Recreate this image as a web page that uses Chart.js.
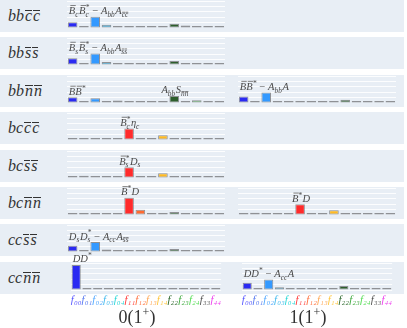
<!DOCTYPE html>
<html>
<head>
<meta charset="utf-8">
<script src="https://cdn.jsdelivr.net/npm/chart.js@4"></script>
<style>
  body { margin: 0; background: #fff; width: 407px; height: 328px; position: relative; overflow: hidden; font-family: "Liberation Serif", serif; }
  .row { position: absolute; left: 0; width: 404px; height: 32px; background: #e8eef5; }
  .name { position: absolute; left: 8px; top: 0; line-height: 32px; font-style: italic; font-size: 16px; color: #333; }
  .ob { display: inline-block; border-top: 1px solid #333; line-height: 0.62; margin-left: 1px; }
  canvas { position: absolute; }
  .col { position: absolute; font-size: 18px; line-height: 20px; color: #333; transform: translateX(-50%); white-space: nowrap; }
  .col sup { font-size: 12px; vertical-align: 7px; line-height: 0; }
</style>
</head>
<body>
<script>
// categories (x axis)
const cats = ['f00', 'f01', 'f02', 'f03', 'f04', 'f11', 'f12', 'f13', 'f14', 'f22', 'f23', 'f24', 'f33', 'f44'];
const barColors = ['#2a2af2', '#3b5bd6', '#3399ff', '#2aa8dc', '#27c4c4', '#ff2b2b', '#ff6a30', '#f0a060', '#ffba22', '#2d5e2d', '#3caa3c', '#4cdd4c', '#5a5a5a', '#c83cc8'];
const tickColors = ['#5a5aff', '#5a7cf0', '#55aaff', '#45bbee', '#30d8d8', '#ff4040', '#ff7444', '#ffaa5a', '#ffc844', '#2f6a2f', '#40aa40', '#55dd55', '#555555', '#ee44ee'];

// row names: first two quarks, last two antiquarks
const rowNames = ['bbcc', 'bbss', 'bbnn', 'bccc', 'bcss', 'bcnn', 'ccss', 'ccnn'];
const colNames = ['0', '1'];

// series values, column 0(1+)
const bbcc0 = [0.21, 0.01, 0.42, 0.12, 0.01, 0.01, 0.01, 0.01, 0.01, 0.16, 0.09, 0.01, 0.01, 0.01];
const bbss0 = [0.25, 0.01, 0.43, 0.11, 0.01, 0.01, 0.01, 0.01, 0.01, 0.15, 0.06, 0.01, 0.01, 0.01];
const bbnn0 = [0.21, 0.03, 0.18, 0.01, 0.09, 0.04, 0.07, 0.01, 0.01, 0.26, 0.01, 0.10, 0.01, 0.03];
const bccc0 = [0.04, 0.06, 0.01, 0.01, 0.06, 0.43, 0.03, 0.03, 0.18, 0.01, 0.01, 0.03, 0.01, 0.03];
const bcss0 = [0.04, 0.08, 0.01, 0.01, 0.06, 0.40, 0.02, 0.02, 0.18, 0.01, 0.01, 0.01, 0.01, 0.01];
const bcnn0 = [0.01, 0.01, 0.01, 0.01, 0.01, 0.64, 0.19, 0.01, 0.03, 0.11, 0.01, 0.01, 0.01, 0.01];
const ccss0 = [0.23, 0.01, 0.37, 0.09, 0.01, 0.01, 0.01, 0.01, 0.01, 0.11, 0.05, 0.01, 0.01, 0.01];
const ccnn0 = [0.93, 0.01, 0.01, 0.01, 0.01, 0.01, 0.01, 0.01, 0.01, 0.01, 0.01, 0.01, 0.01, 0.01];
// series values, column 1(1+)
const bbnn1 = [0.24, 0.01, 0.39, 0.06, 0.01, 0.01, 0.01, 0.01, 0.01, 0.12, 0.04, 0.01, 0.01, 0.01];
const bcnn1 = [0.04, 0.08, 0.01, 0.01, 0.06, 0.40, 0.03, 0.03, 0.18, 0.01, 0.01, 0.03, 0.01, 0.03];
const ccnn1 = [0.27, 0.01, 0.39, 0.10, 0.01, 0.01, 0.01, 0.01, 0.01, 0.15, 0.06, 0.01, 0.02, 0.01];

// little math-text pieces for the bar notes
const N = (t, bar) => ({ t, bar });
const S = (sub, sup, sb) => ({ sub, sup, sb });
const O = t => ({ t, up: true });

const panels = [
  { row: 0, col: 0, data: bbcc0, notes: [{ i: 0, align: 'left', parts: [N('B', 1), S('c'), N('B', 1), S('c', '*'), O(' − '), N('A'), S('bb'), N('A'), S('cc', null, 1)] }] },
  { row: 1, col: 0, data: bbss0, notes: [{ i: 0, align: 'left', parts: [N('B', 1), S('s'), N('B', 1), S('s', '*'), O(' − '), N('A'), S('bb'), N('A'), S('ss', null, 1)] }] },
  { row: 2, col: 0, data: bbnn0, notes: [
      { i: 0, align: 'left', parts: [N('B', 1), N('B', 1), S(null, '*')] },
      { i: 9, align: 'center', parts: [N('A'), S('bb'), N('S'), S('nn', null, 1)] }] },
  { row: 2, col: 1, data: bbnn1, notes: [{ i: 0, align: 'left', parts: [N('B', 1), N('B', 1), S(null, '*'), O(' − '), N('A'), S('bb'), N('A')] }] },
  { row: 3, col: 0, data: bccc0, notes: [{ i: 5, align: 'center', parts: [N('B', 1), S('c', '*'), N('η'), S('c')] }] },
  { row: 4, col: 0, data: bcss0, notes: [{ i: 5, align: 'center', parts: [N('B', 1), S('s', '*'), N('D'), S('s')] }] },
  { row: 5, col: 0, data: bcnn0, notes: [{ i: 5, align: 'center', parts: [N('B', 1), S(null, '*'), N('D')] }] },
  { row: 5, col: 1, data: bcnn1, notes: [{ i: 5, align: 'center', parts: [N('B', 1), S(null, '*'), N('D')] }] },
  { row: 6, col: 0, data: ccss0, notes: [{ i: 0, align: 'left', parts: [N('D'), S('s'), N('D'), S('s', '*'), O(' − '), N('A'), S('cc'), N('A'), S('ss', null, 1)] }] },
  { row: 7, col: 0, data: ccnn0, ticks: true, notes: [{ i: 0, align: 'left', parts: [N('D'), N('D'), S(null, '*')] }] },
  { row: 7, col: 1, data: ccnn1, ticks: true, notes: [{ i: 0, align: 'left', parts: [N('D'), N('D'), S(null, '*'), O(' − '), N('A'), S('cc'), N('A')] }] },
];

const W = 158, H = 27, PADT = 16, TICKH = 15;
const colX = [67, 238];
const base0 = 28, pitch = 37.4;
const NF = 10.5;
const subDigits = '₀₁₂₃₄';

function baseline(r) { return Math.round(base0 + pitch * r); }

// draw (or just measure) a short math label, x = left, y = text baseline
function rich(ctx, parts, x, y, draw) {
  let cx = x;
  const bar = (x0, x1, yy) => { ctx.beginPath(); ctx.moveTo(x0, yy); ctx.lineTo(x1, yy); ctx.stroke(); };
  for (const p of parts) {
    if (p.t) {
      ctx.font = (p.up ? '' : 'italic ') + NF + 'px "Liberation Serif"';
      const w = ctx.measureText(p.t).width;
      if (draw) {
        ctx.fillText(p.t, cx, y);
        if (p.bar) bar(cx + 1.5, cx + w + 0.5, y - NF * 0.82);
      }
      cx += w;
    } else {
      ctx.font = 'italic ' + (NF * 0.7) + 'px "Liberation Serif"';
      let w = 0;
      if (p.sup) {
        if (draw) ctx.fillText(p.sup, cx, y - NF * 0.4);
        w = Math.max(w, ctx.measureText(p.sup).width);
      }
      if (p.sub) {
        let sx = cx;
        for (const ch of p.sub) {
          const wc = ctx.measureText(ch).width;
          if (draw) {
            ctx.fillText(ch, sx, y + NF * 0.25);
            if (p.sb) bar(sx + 0.4, sx + wc, y + NF * 0.25 - NF * 0.7 * 0.62);
          }
          sx += wc;
        }
        w = Math.max(w, sx - cx);
      }
      cx += w + 0.6;
    }
  }
  return cx - x;
}

function makeNotes(list) {
  return {
    id: 'notes',
    afterDatasetsDraw(chart) {
      const ctx = chart.ctx;
      const bars = chart.getDatasetMeta(0).data;
      ctx.save();
      ctx.fillStyle = '#4a4a4a';
      ctx.strokeStyle = '#4a4a4a';
      ctx.lineWidth = 0.7;
      ctx.textBaseline = 'alphabetic';
      for (const n of list) {
        const w = rich(ctx, n.parts, 0, 0, false);
        const b = bars[n.i];
        const x = n.align === 'left' ? b.x - b.width / 2 + 1 : b.x - w / 2 + 1;
        // sit just above the highest bar under the text
        let top = chart.chartArea.bottom;
        for (const e of bars) {
          if (e.x + e.width / 2 > x && e.x - e.width / 2 < x + w) top = Math.min(top, e.y);
        }
        rich(ctx, n.parts, x, top - 2.5, true);
      }
      ctx.restore();
    }
  };
}

// row backgrounds and names
rowNames.forEach((name, r) => {
  const bg = document.createElement('div');
  bg.className = 'row';
  bg.style.top = (baseline(r) - 28) + 'px';
  const lab = document.createElement('div');
  lab.className = 'name';
  lab.innerHTML = name.slice(0, 2) + name.slice(2).split('').map(c => '<span class="ob">' + c + '</span>').join('');
  bg.appendChild(lab);
  document.body.appendChild(bg);
});

// one small bar chart per panel
panels.forEach(p => {
  const cv = document.createElement('canvas');
  const h = PADT + H + (p.ticks ? TICKH : 0);
  cv.width = W;
  cv.height = h;
  cv.style.left = colX[p.col] + 'px';
  cv.style.top = (baseline(p.row) - H - PADT) + 'px';
  cv.style.width = W + 'px';
  cv.style.height = h + 'px';
  document.body.appendChild(cv);

  new Chart(cv, {
    type: 'bar',
    data: {
      labels: cats,
      datasets: [{
        data: p.data,
        backgroundColor: barColors,
        borderColor: 'rgba(70, 70, 70, 0.55)',
        borderWidth: 1,
        borderSkipped: false,
        minBarLength: 2,
        barPercentage: 0.85,
        categoryPercentage: 1
      }]
    },
    options: {
      responsive: false,
      animation: false,
      events: [],
      layout: { padding: { top: PADT, left: 0, right: 0, bottom: 0 } },
      plugins: { legend: { display: false }, tooltip: { enabled: false } },
      scales: {
        x: {
          display: !!p.ticks,
          afterFit: s => { s.height = p.ticks ? TICKH : 0; },
          grid: { display: false, drawTicks: false },
          border: { display: false },
          ticks: {
            autoSkip: false,
            maxRotation: 0,
            padding: 4,
            font: { family: 'Liberation Serif', style: 'italic', size: 11 },
            color: c => tickColors[c.index],
            callback: (v, i) => 'f' + cats[i].slice(1).split('').map(d => subDigits[d]).join('')
          }
        },
        y: {
          min: 0,
          max: 1,
          ticks: { display: false, stepSize: 0.2 },
          grid: { color: 'rgba(255, 255, 255, 0.85)', drawTicks: false },
          border: { display: false }
        }
      }
    },
    plugins: [makeNotes(p.notes)]
  });
});

// column titles
const colCenters = [137, 308];
colNames.forEach((n, c) => {
  const d = document.createElement('div');
  d.className = 'col';
  d.style.left = colCenters[c] + 'px';
  d.style.top = '307px';
  d.innerHTML = n + '(1<sup>+</sup>)';
  document.body.appendChild(d);
});
</script>
</body>
</html>
